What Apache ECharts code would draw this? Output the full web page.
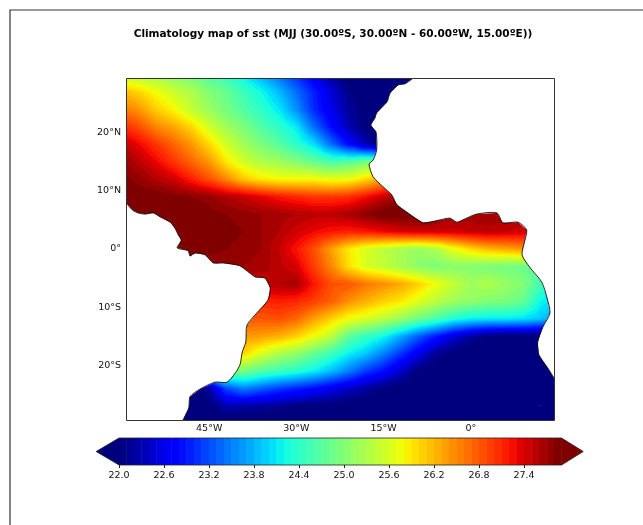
<!DOCTYPE html>
<html><head><meta charset="utf-8">
<style>html,body{margin:0;padding:0;background:#fff}#c{width:643px;height:525px}</style>
<script src="https://cdn.jsdelivr.net/npm/echarts@6/dist/echarts.min.js"></script>
</head><body><div id="c"></div>
<script>
const titleText = 'Climatology map of sst (MJJ (30.00ºS, 30.00ºN - 60.00ºW, 15.00ºE))';
const lons = [-60,-57,-54,-51,-48,-45,-42,-39,-36,-33,-30,-27,-24,-21,-18,-15,-12,-9,-6,-3,0,3,6,9,12,15];
const lats = [30,27,24,21,18,15,12,9,6,3,0,-3,-6,-9,-12,-15,-18,-21,-24,-27,-30];
const sstN30 = [25.4,25.3,25.2,25.05,24.85,24.65,24.4,24.1,23.75,23.4,23.0,22.6,22.2,21.9,21.8,21.8,21.8,21.8,21.8,21.8,21.8,21.8,21.8,21.8,21.8,21.8];
const sstN27 = [26.2,26.0,25.75,25.5,25.3,25.0,24.8,24.5,24.2,23.85,23.4,22.95,22.5,22.1,21.85,21.85,21.85,21.85,21.85,21.85,21.85,21.85,21.85,21.85,21.85,21.85];
const sstN24 = [26.6,26.4,26.05,25.8,25.45,25.15,24.9,24.65,24.4,24.1,23.6,23.0,22.6,22.2,21.95,21.9,21.9,21.9,21.9,21.9,21.9,21.9,21.9,21.9,21.9,21.9];
const sstN21 = [27.1,26.85,26.5,26.3,26.0,25.55,25.2,24.95,24.65,24.4,24.1,23.4,22.8,22.3,22.0,21.9,21.9,21.9,21.9,21.9,21.9,21.9,21.9,21.9,21.9,21.9];
const sstN18 = [27.55,27.3,27.0,26.7,26.4,26.0,25.55,25.2,24.95,24.7,24.4,24.05,23.4,22.8,22.3,21.9,21.9,21.9,21.9,21.9,21.9,21.9,21.9,21.9,21.9,21.9];
const sstN15 = [27.75,27.55,27.3,27.0,26.7,26.4,25.9,25.55,25.3,25.2,25.0,24.8,24.6,24.7,24.9,25.0,25.0,25.0,25.0,25.0,25.0,25.0,25.0,25.0,25.0,25.0];
const sstN12 = [27.85,27.75,27.6,27.45,27.15,26.85,26.5,26.1,25.9,25.8,25.8,25.8,25.7,25.75,26.0,26.3,26.5,26.5,26.5,26.5,26.5,26.5,26.5,26.5,26.5,26.5];
const sstN09 = [27.95,27.9,27.9,27.85,27.8,27.75,27.6,27.5,27.35,27.2,27.1,27.0,27.0,27.05,27.25,27.5,27.75,27.9,27.9,27.9,27.9,27.9,27.9,27.9,27.9,27.9];
const sstN06 = [27.95,27.95,27.9,27.9,27.9,27.85,27.8,27.75,27.7,27.65,27.6,27.55,27.55,27.65,27.8,27.95,27.95,27.95,27.8,27.7,27.7,27.7,27.7,27.6,27.6,27.6];
const sstN03 = [27.9,27.9,27.9,27.9,27.85,27.85,27.85,27.8,27.7,27.6,27.45,27.3,27.2,27.15,27.2,27.3,27.4,27.45,27.45,27.45,27.5,27.55,27.5,27.45,27.4,27.4];
const sstEq = [27.9,27.9,27.9,27.9,27.85,27.85,27.8,27.75,27.7,27.5,27.2,26.85,26.35,25.9,25.6,25.4,25.25,25.15,25.3,25.7,26.0,26.2,26.3,26.4,26.4,26.4];
const sstS03 = [27.7,27.7,27.7,27.7,27.7,27.7,27.7,27.7,27.65,27.55,27.4,26.95,26.5,25.95,25.6,25.45,25.25,25.05,24.95,25.05,25.0,24.95,24.9,24.85,24.7,24.6];
const sstS06 = [27.5,27.5,27.5,27.5,27.5,27.5,27.5,27.5,27.5,27.6,27.65,27.2,26.85,26.8,26.6,26.45,26.3,26.05,25.75,25.45,25.2,25.3,25.15,25.0,24.55,24.2];
const sstS09 = [27.1,27.1,27.1,27.1,27.1,27.1,27.1,27.1,27.1,27.15,27.1,26.95,26.75,26.45,26.25,26.05,25.9,25.65,25.4,25.2,25.1,25.0,24.95,24.8,24.2,23.9];
const sstS12 = [26.8,26.8,26.8,26.8,26.8,26.8,26.8,26.8,26.8,26.85,26.7,26.35,26.05,25.75,25.6,25.4,25.15,24.85,24.6,24.3,24.15,24.1,24.1,24.05,23.9,23.7];
const sstS15 = [26.4,26.4,26.4,26.4,26.4,26.4,26.4,26.4,26.35,26.25,26.05,25.75,25.4,24.75,24.45,24.2,23.75,23.3,22.9,22.5,22.2,22.0,21.9,21.9,21.9,21.9];
const sstS18 = [26.0,26.0,26.0,26.0,26.0,26.0,26.0,26.0,25.6,25.3,25.1,24.8,24.5,24.15,23.9,23.5,23.05,22.6,22.15,21.95,21.9,21.9,21.9,21.9,21.9,21.9];
const sstS21 = [25.0,25.0,25.0,25.0,25.0,25.0,25.0,24.9,24.65,24.5,24.35,24.15,23.85,23.5,23.1,22.8,22.4,22.0,21.9,21.9,21.9,21.9,21.9,21.9,21.9,21.9];
const sstS24 = [21.9,21.9,21.9,21.9,21.9,22.2,23.2,23.5,23.3,23.1,22.95,22.8,22.6,22.4,22.2,22.0,21.9,21.9,21.9,21.9,21.9,21.9,21.9,21.9,21.9,21.9];
const sstS27 = [21.85,21.85,21.85,21.85,21.85,21.95,22.3,22.25,22.2,22.15,22.05,22.0,21.95,21.9,21.9,21.9,21.9,21.9,21.9,21.9,21.9,21.9,21.9,21.9,21.9,21.9];
const sstS30 = [21.8,21.8,21.8,21.8,21.8,21.8,21.8,21.8,21.8,21.8,21.8,21.8,21.8,21.8,21.8,21.8,21.8,21.8,21.8,21.8,21.8,21.8,21.8,21.8,21.8,21.8];
const sstRows = [sstN30,sstN27,sstN24,sstN21,sstN18,sstN15,sstN12,sstN09,sstN06,sstN03,sstEq,sstS03,sstS06,sstS09,sstS12,sstS15,sstS18,sstS21,sstS24,sstS27,sstS30];

const southAmericaLon = [-59.3,-58.2,-57.2,-56.0,-54.6,-53.4,-51.7,-50.9,-50.3,-49.8,-50.5,-48.6,-48.3,-47.4,-45.7,-44.3,-42.6,-39.7,-37.1,-35.4,-34.5,-34.9,-36.8,-38.5,-38.7,-39.3,-39.7,-40.5,-41.9,-44.0,-46.6,-48.3,-48.5,-49.5];
const southAmericaLat = [8.0,6.7,6.2,6.0,6.2,5.5,4.6,3.6,2.4,1.5,0.2,-0.3,-1.2,-0.7,-1.0,-2.4,-2.4,-2.9,-4.8,-5.0,-6.7,-8.8,-11.0,-13.1,-16.0,-17.7,-19.9,-21.3,-22.9,-22.9,-24.1,-25.4,-27.3,-29.4];
const africaLon = [-9.9,-11.3,-12.5,-13.9,-14.4,-16.2,-16.5,-17.2,-16.3,-16.2,-16.8,-17.5,-16.8,-15.1,-13.6,-12.7,-10.8,-8.2,-5.3,-3.6,-2.4,-1.4,1.0,4.5,5.5,8.1,9.6,9.3,8.8,10.1,12.2,13.1,13.6,12.4,11.5,11.7,13.2,14.3];
const africaLat = [29.4,28.4,28.2,26.8,25.3,23.4,22.5,21.3,20.1,17.0,15.3,14.6,12.4,10.7,9.3,7.6,6.2,4.5,5.0,5.3,4.6,5.0,6.0,6.2,4.5,4.6,3.3,1.5,-1.0,-3.1,-5.7,-8.4,-11.0,-13.4,-16.0,-18.2,-20.4,-22.2];

const lonTicks = [-45,-30,-15,0];
const latTicks = [20,10,0,-10,-20];
const barTicks = [22.0,22.6,23.2,23.8,24.4,25.0,25.6,26.2,26.8,27.4];
const levelMin = 22, levelMax = 27.9, levelStep = 0.1;

function jetChannel(t, pts){
  for(let i=1;i<pts.length;i++){ if(t<=pts[i][0]){
    const a=pts[i-1],b=pts[i]; return a[1]+(b[1]-a[1])*(t-a[0])/(b[0]-a[0]); } }
  return pts[pts.length-1][1];
}
function jet(t){
  const r=jetChannel(t,[[0,0],[.35,0],[.66,1],[.89,1],[1,.5]]);
  const g=jetChannel(t,[[0,0],[.125,0],[.375,1],[.64,1],[.91,0],[1,0]]);
  const b=jetChannel(t,[[0,.5],[.11,1],[.34,1],[.65,0],[1,0]]);
  return 'rgb('+Math.round(r*255)+','+Math.round(g*255)+','+Math.round(b*255)+')';
}
const nBands = Math.round((levelMax-levelMin)/levelStep);
const bands = [];
for(let k=0;k<nBands;k++){
  bands.push({lo:levelMin+k*levelStep, hi:levelMin+(k+1)*levelStep, color:jet(k/(nBands-1))});
}
const underColor='rgb(0,0,127)', overColor='rgb(127,0,0)';
// painted lowest first: each layer covers everything at or above its lower limit
const layers=[{lo:-1e9,color:underColor}].concat(bands,[{lo:levelMax,color:overColor}]);

function clipAbove(poly,l){
  const out=[];
  for(let i=0;i<poly.length;i++){
    const a=poly[i],b=poly[(i+1)%poly.length];
    const ia=a[2]>=l, ib=b[2]>=l;
    if(ia) out.push(a);
    if(ia!==ib){const t=(l-a[2])/(b[2]-a[2]);out.push([a[0]+(b[0]-a[0])*t,a[1]+(b[1]-a[1])*t,l]);}
  }
  return out;
}
function renderLayer(params,api){
  const l=layers[params.dataIndex];
  const P=(ii,jj)=>{const c=api.coord([lons[ii],lats[jj]]);return [c[0],c[1],sstRows[jj][ii]];};
  const parts=[];
  for(let j=0;j<lats.length-1;j++)for(let i=0;i<lons.length-1;i++){
    const A=P(i,j),B=P(i+1,j),C=P(i+1,j+1),D=P(i,j+1);
    const M=[(A[0]+C[0])/2,(A[1]+C[1])/2,(A[2]+B[2]+C[2]+D[2])/4];
    [[A,B,M],[B,C,M],[C,D,M],[D,A,M]].forEach(tri=>{
      const p=clipAbove(tri,l.lo);
      if(p.length<3)return;
      parts.push('M'+p.map(q=>q[0].toFixed(2)+' '+q[1].toFixed(2)).join('L')+'Z');
    });
  }
  if(!parts.length)return;
  return {type:'path',silent:true,shape:{pathData:parts.join(''),layout:'none'},style:{fill:l.color,stroke:null}};
}
const lonMin=-59.3,lonMax=14.3,latMin=-29.4,latMax=29.4;
function landSeries(name,lo,la,corners){
  return {name,type:'custom',coordinateSystem:'cartesian2d',xAxisIndex:0,yAxisIndex:0,clip:true,silent:true,z:5,
    data:lo.map((v,i)=>[v,la[i]]),encode:{x:0,y:1},
    renderItem(params,api){
      if(params.dataIndex!==0)return;
      const pts=lo.map((v,i)=>api.coord([v,la[i]]));
      const fillPts=pts.concat(corners.map(c=>api.coord(c)));
      return {type:'group',children:[
        {type:'polygon',shape:{points:fillPts},style:{fill:'#fff',stroke:null}},
        {type:'polyline',shape:{points:pts,smooth:0.25},style:{fill:null,stroke:'#111',lineWidth:0.9}}
      ]};
    }};
}
const barBottom=0,barTop=1;
const chart=echarts.init(document.getElementById('c'),null,{renderer:'canvas'});
chart.setOption({
  animation:false,
  backgroundColor:'#fff',
  title:{text:titleText,left:328,top:24,textAlign:'center',textStyle:{fontFamily:'DejaVu Sans',fontWeight:'bold',fontSize:10.5,color:'#000'}},
  grid:[
    {left:126,top:78,width:428,height:342,show:false},
    {left:119,top:438,width:442.5,height:27,show:false}
  ],
  xAxis:[
    {type:'value',gridIndex:0,min:lonMin,max:lonMax,splitLine:{show:false},axisLine:{show:false},axisTick:{show:false},
     axisLabel:{customValues:lonTicks,margin:4,fontFamily:'DejaVu Sans',fontSize:9.5,color:'#111',
       formatter:v=>v===0?'0°':Math.abs(v)+'°W'}},
    {type:'value',gridIndex:1,min:levelMin,max:levelMax,splitLine:{show:false},
     axisLine:{show:false},axisTick:{show:true,customValues:barTicks,length:3,lineStyle:{color:'#222',width:1}},
     axisLabel:{customValues:barTicks,margin:6,fontFamily:'DejaVu Sans',fontSize:9.5,color:'#111',formatter:v=>v.toFixed(1)}}
  ],
  yAxis:[
    {type:'value',gridIndex:0,min:latMin,max:latMax,splitLine:{show:false},axisLine:{show:false},axisTick:{show:false},
     axisLabel:{customValues:latTicks,margin:5,fontFamily:'DejaVu Sans',fontSize:9.5,color:'#111',
       formatter:v=>v===0?'0°':Math.abs(v)+(v>0?'°N':'°S')}},
    {type:'value',gridIndex:1,min:barBottom,max:barTop,show:false}
  ],
  graphic:[
    {type:'rect',z:100,silent:true,shape:{x:10,y:10,width:900,height:900},style:{fill:null,stroke:'#333',lineWidth:1.2}},
    {type:'rect',z:100,silent:true,shape:{x:126.5,y:78.5,width:428,height:342},style:{fill:null,stroke:'#333',lineWidth:1}}
  ],
  series:[
    {name:'sst',type:'custom',coordinateSystem:'cartesian2d',xAxisIndex:0,yAxisIndex:0,clip:true,silent:true,z:2,
     data:layers.map(()=>[lons[0],lats[0]]),encode:{x:0,y:1},renderItem:renderLayer},
    landSeries('South America',southAmericaLon,southAmericaLat,[[lonMin,latMin],[lonMin,8.0]]),
    landSeries('Africa',africaLon,africaLat,[[lonMax,latMax]]),
    {name:'colorbar',type:'custom',coordinateSystem:'cartesian2d',xAxisIndex:1,yAxisIndex:1,silent:true,z:3,
     data:bands.map(b=>[b.lo,b.hi]),encode:{x:[0,1]},
     renderItem(params,api){
       const a=api.coord([api.value(0),barBottom]),b=api.coord([api.value(1),barTop]);
       return {type:'rect',shape:{x:a[0],y:b[1],width:b[0]-a[0]+0.4,height:a[1]-b[1]},style:{fill:bands[params.dataIndex].color}};
     }},
    {name:'colorbar ends',type:'custom',coordinateSystem:'cartesian2d',xAxisIndex:1,yAxisIndex:1,silent:true,z:4,clip:false,
     data:[[levelMin,barBottom]],encode:{x:0,y:1},
     renderItem(params,api){
       const tipL=levelMin-0.305,tipR=levelMax+0.29,mid=(barBottom+barTop)/2;
       const c=(x,y)=>api.coord([x,y]);
       return {type:'group',children:[
         {type:'polygon',shape:{points:[c(levelMin,barBottom),c(tipL,mid),c(levelMin,barTop)]},style:{fill:underColor}},
         {type:'polygon',shape:{points:[c(levelMax,barBottom),c(tipR,mid),c(levelMax,barTop)]},style:{fill:overColor}},
         {type:'polygon',shape:{points:[c(levelMin,barTop),c(levelMax,barTop),c(tipR,mid),c(levelMax,barBottom),c(levelMin,barBottom),c(tipL,mid)]},style:{fill:null,stroke:'#222',lineWidth:0.8}}
       ]};
     }}
  ]
});
</script></body></html>
